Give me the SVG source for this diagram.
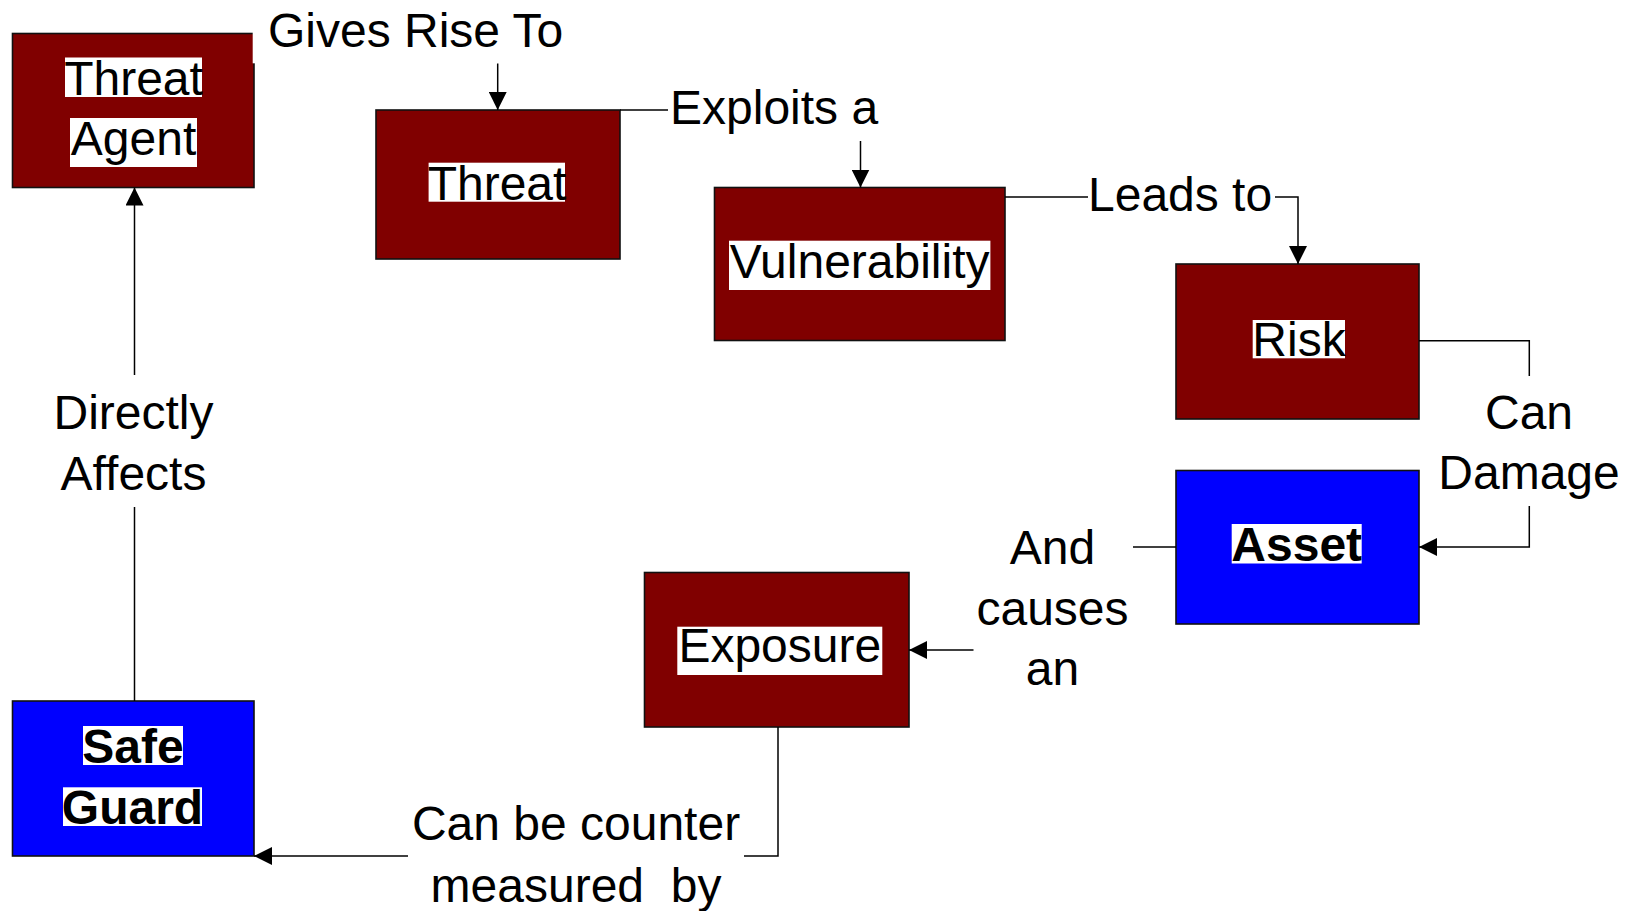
<svg xmlns="http://www.w3.org/2000/svg" width="1633" height="911" viewBox="0 0 1633 911">
  <defs>
    <style>
      text { font-family: "Liberation Sans", Arial, sans-serif; font-size: 48px; fill: #000; }
      .box { stroke: #111; stroke-width: 1.6; }
      .red { fill: #800000; }
      .blue { fill: #0000ff; }
      .hl { fill: #ffffff; }
      .bold { font-weight: bold; }
      .mid { text-anchor: middle; }
      .wire { fill: none; stroke: #000; stroke-width: 1.5; }
      .pre { white-space: pre; }
    </style>
    <marker id="arrow" viewBox="0 0 18 18" refX="18" refY="9" markerWidth="18" markerHeight="18" markerUnits="userSpaceOnUse" orient="auto">
      <path d="M0,0 L18,9 L0,18 z" fill="#000"/>
    </marker>
  </defs>

  <rect width="1633" height="911" fill="#ffffff"/>

  <!-- Nodes -->
  <g id="threat-agent">
    <rect class="box red" x="12.5" y="33.5" width="241.5" height="154"/>
    <rect class="hl" x="65" y="57.5" width="137" height="39.5"/>
    <text class="mid" x="133.5" y="95">Threat</text>
    <rect class="hl" x="70" y="118" width="127" height="49"/>
    <text class="mid" x="133.5" y="154.5">Agent</text>
  </g>

  <g id="threat">
    <rect class="box red" x="376" y="110" width="244" height="149"/>
    <rect class="hl" x="428.6" y="162.7" width="136.4" height="39"/>
    <text class="mid" x="497" y="199.5">Threat</text>
  </g>

  <g id="vulnerability">
    <rect class="box red" x="714.5" y="187.5" width="290.5" height="153"/>
    <rect class="hl" x="729" y="240.7" width="261.4" height="49.3"/>
    <text class="mid" x="859.7" y="277.7">Vulnerability</text>
  </g>

  <g id="risk">
    <rect class="box red" x="1176" y="264" width="243" height="155"/>
    <rect class="hl" x="1252.7" y="320" width="92.3" height="38.3"/>
    <text class="mid" x="1299" y="356">Risk</text>
  </g>

  <g id="asset">
    <rect class="box blue" x="1176" y="470.5" width="243" height="153.5"/>
    <rect class="hl" x="1231.7" y="524" width="130" height="39.5"/>
    <text class="mid bold" x="1296.7" y="561">Asset</text>
  </g>

  <g id="exposure">
    <rect class="box red" x="644.5" y="572.5" width="264.5" height="154.5"/>
    <rect class="hl" x="677.3" y="626.7" width="205" height="48.3"/>
    <text class="mid" x="779.8" y="662">Exposure</text>
  </g>

  <g id="safe-guard">
    <rect class="box blue" x="12.5" y="701" width="241.5" height="155"/>
    <rect class="hl" x="83" y="726" width="100" height="39"/>
    <text class="mid bold" x="133" y="763">Safe</text>
    <rect class="hl" x="63" y="787.3" width="139" height="38.7"/>
    <text class="mid bold" x="132.5" y="824">Guard</text>
  </g>

  <!-- Connectors and their labels -->
  <g id="connectors">
    <!-- Threat Agent gives rise to Threat -->
    <rect class="hl" x="252.7" y="0" width="320" height="63.3"/>
    <text x="268" y="46.5">Gives Rise To</text>
    <path class="wire" d="M497.7,63.5 V110" marker-end="url(#arrow)"/>

    <!-- Threat exploits a Vulnerability -->
    <path class="wire" d="M620,110 H668"/>
    <text x="670" y="124">Exploits a</text>
    <path class="wire" d="M860.5,141 V187.5" marker-end="url(#arrow)"/>

    <!-- Vulnerability leads to Risk -->
    <path class="wire" d="M1005,197 H1088"/>
    <text x="1088" y="210.5">Leads to</text>
    <path class="wire" d="M1275,197 H1298 V264" marker-end="url(#arrow)"/>

    <!-- Risk can damage Asset -->
    <path class="wire" d="M1419,340.7 H1529.3 V376"/>
    <text class="mid" x="1529" y="428.5">Can</text>
    <text class="mid" x="1529" y="489">Damage</text>
    <path class="wire" d="M1529.3,506 V547 H1419" marker-end="url(#arrow)"/>

    <!-- Asset causes an Exposure -->
    <path class="wire" d="M1176,547 H1133"/>
    <text class="mid" x="1052.5" y="564">And</text>
    <text class="mid" x="1052.5" y="625">causes</text>
    <text class="mid" x="1052.5" y="685">an</text>
    <path class="wire" d="M973.5,650 H909" marker-end="url(#arrow)"/>

    <!-- Exposure counter-measured by Safe Guard -->
    <path class="wire" d="M778,727 V856 H744"/>
    <text class="mid" x="576" y="839.5">Can be counter</text>
    <text class="mid pre" x="576" y="901.5" xml:space="preserve">measured  by</text>
    <path class="wire" d="M408,856 H254" marker-end="url(#arrow)"/>

    <!-- Safe Guard directly affects Threat Agent -->
    <path class="wire" d="M134.5,701 V507"/>
    <text class="mid" x="133.5" y="429">Directly</text>
    <text class="mid" x="133.5" y="489.5">Affects</text>
    <path class="wire" d="M134.5,375 V187.5" marker-end="url(#arrow)"/>
  </g>
</svg>
